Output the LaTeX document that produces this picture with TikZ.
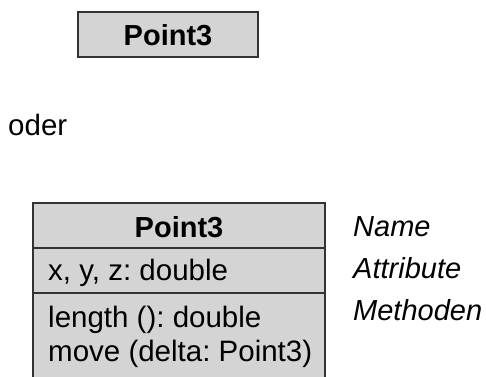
\documentclass[tikz,border=0pt]{standalone}
\usepackage{fontspec}
\setmainfont{Liberation Sans}
\frenchspacing
\begin{document}
\begin{tikzpicture}[x=1pt,y=-1pt,
  umlbox/.style={draw=black!80, fill=black!17, line width=1.3pt},
  txt/.style={font=\fontsize{29.5}{35}\selectfont, inner sep=0pt},
  classname/.style={txt, font=\fontsize{29}{35}\selectfont\bfseries, anchor=base},
  member/.style={txt, anchor=base west},
  note/.style={txt, font=\fontsize{29}{35}\selectfont\itshape, anchor=base west}]
\useasboundingbox (0,0) rectangle (486,376);
% compact class symbol
\draw[umlbox] (78,12) rectangle (258,57);
\node[classname] (short) at (168,45) {Point3};
% separator word
\node[txt, anchor=base west] (oder) at (8,135) {oder};
% full class symbol with three compartments
\draw[umlbox] (33,203) rectangle (325,380);
\draw[umlbox] (33,248) -- (325,248);
\draw[umlbox] (33,293) -- (325,293);
\node[classname] (name) at (179,237) {Point3};
\node[member] (attr) at (48,280) {x, y, z: double};
\node[member] (m1) at (48,327) {length (): double};
\node[member] (m2) at (48,361) {move (delta: Point3)};
% compartment labels
\node[note] (lname) at (353,236) {Name};
\node[note] (lattr) at (353,278) {Attribute};
\node[note] (lmeth) at (353,320) {Methoden};
\end{tikzpicture}
\end{document}
